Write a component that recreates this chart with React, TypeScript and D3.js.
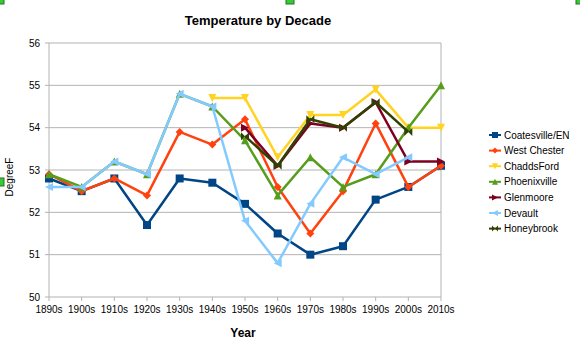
import React from "react";
import * as d3 from "d3";

const categories = ["1890s","1900s","1910s","1920s","1930s","1940s","1950s","1960s","1970s","1980s","1990s","2000s","2010s"];
const coatesville = [52.8,52.5,52.8,51.7,52.8,52.7,52.2,51.5,51.0,51.2,52.3,52.6,53.1];
const westChester = [52.9,52.5,52.8,52.4,53.9,53.6,54.2,52.6,51.5,52.5,54.1,52.6,53.1];
const chaddsFord = [null,null,null,null,null,54.7,54.7,53.3,54.3,54.3,54.9,54.0,54.0];
const phoenixville = [52.9,52.6,53.2,52.9,54.8,54.5,53.7,52.4,53.3,52.6,52.9,54.0,55.0];
const glenmoore = [null,null,null,null,null,null,54.0,53.1,54.1,54.0,54.6,53.2,53.2];
const devault = [52.6,52.6,53.2,52.9,54.8,54.5,51.8,50.8,52.2,53.3,52.9,53.3,null];
const honeybrook = [null,null,null,null,null,null,53.8,53.1,54.2,54.0,54.6,53.9,null];
const yTicks = [50,51,52,53,54,55,56];

type S = { name: string; values: (number | null)[]; color: string; marker: string };
const series: S[] = [
  { name: "Coatesville/EN", values: coatesville, color: "#004586", marker: "square" },
  { name: "West Chester", values: westChester, color: "#ff420e", marker: "diamond" },
  { name: "ChaddsFord", values: chaddsFord, color: "#ffd320", marker: "down" },
  { name: "Phoenixville", values: phoenixville, color: "#579d1c", marker: "up" },
  { name: "Glenmoore", values: glenmoore, color: "#7e0021", marker: "right" },
  { name: "Devault", values: devault, color: "#83caff", marker: "left" },
  { name: "Honeybrook", values: honeybrook, color: "#314004", marker: "bowtie" },
];

function markerPath(kind: string, r: number): string {
  switch (kind) {
    case "square": return `M${-r},${-r}H${r}V${r}H${-r}Z`;
    case "diamond": return `M0,${-r}L${r},0L0,${r}L${-r},0Z`;
    case "down": return `M${-r},${-r}L${r},${-r}L0,${r}Z`;
    case "up": return `M${-r},${r}L${r},${r}L0,${-r}Z`;
    case "right": return `M${-r},${-r}L${r},0L${-r},${r}Z`;
    case "left": return `M${r},${-r}L${-r},0L${r},${r}Z`;
    case "bowtie": return `M${-r},${-r}L${r},${r}L${r},${-r}L${-r},${r}Z`;
  }
  return "";
}

export default function App() {
  const W = 580, H = 348;
  const left = 49, right = 441, top = 43, bottom = 297;
  const x = d3.scalePoint<string>().domain(categories).range([left, right]);
  const y = d3.scaleLinear().domain([50, 56]).range([bottom, top]);
  const font = "'Liberation Sans', Arial, sans-serif";
  const legendY0 = 135, legendStep = 15.6;
  return (
    <svg width={W} height={H} style={{ position: "absolute", left: 0, top: 0, background: "#fff" }} fontFamily={font}>
      <rect x={0} y={0} width={W} height={H} fill="#fff" />
      {yTicks.map((t) => (
        <g key={t}>
          <line x1={left - 4} x2={right} y1={y(t)} y2={y(t)} stroke="#b3b3b3" strokeWidth={1} />
          <text x={left - 9} y={y(t)} dy="0.35em" textAnchor="end" fontSize={10} fill="#000">{t}</text>
        </g>
      ))}
      <line x1={left} x2={left} y1={top} y2={bottom} stroke="#b3b3b3" strokeWidth={1} />
      <line x1={right} x2={right} y1={top} y2={bottom} stroke="#b3b3b3" strokeWidth={1} />
      {categories.map((c) => (
        <g key={c}>
          <line x1={x(c)!} x2={x(c)!} y1={bottom} y2={bottom + 4} stroke="#b3b3b3" />
          <text x={x(c)!} y={bottom + 16} textAnchor="middle" fontSize={10} fill="#000">{c}</text>
        </g>
      ))}
      {series.map((s) => {
        const line = d3.line<number | null>()
          .defined((d) => d !== null)
          .x((_, i) => x(categories[i])!)
          .y((d) => y(d as number));
        return (
          <g key={s.name}>
            <path d={line(s.values) || ""} fill="none" stroke={s.color} strokeWidth={2.5} strokeLinejoin="round" />
            {s.values.map((v, i) => v === null ? null : (
              <path key={i} transform={`translate(${x(categories[i])},${y(v)})`} d={markerPath(s.marker, 4)} fill={s.color} />
            ))}
          </g>
        );
      })}
      <text x={258} y={25} textAnchor="middle" fontSize={13} fontWeight="bold" fill="#000">Temperature by Decade</text>
      <text x={243} y={337} textAnchor="middle" fontSize={12} fontWeight="bold" fill="#000">Year</text>
      <text transform={`translate(13,177) rotate(-90)`} textAnchor="middle" fontSize={10} fill="#000">DegreeF</text>
      {series.map((s, i) => {
        const ly = legendY0 + i * legendStep;
        return (
          <g key={s.name}>
            <line x1={489} x2={501} y1={ly} y2={ly} stroke={s.color} strokeWidth={2} />
            <path transform={`translate(495,${ly})`} d={markerPath(s.marker, 3)} fill={s.color} />
            <text x={504} y={ly} dy="0.35em" fontSize={10} fill="#000">{s.name}</text>
          </g>
        );
      })}
      {[[0, 0], [290, 0], [580, 0], [0, 182]].map(([hx, hy], i) => (
        <rect key={i} x={hx - 4} y={hy - 4} width={8} height={8} fill="#33cc33" stroke="#2a6e2a" strokeWidth={1} />
      ))}
    </svg>
  );
}
